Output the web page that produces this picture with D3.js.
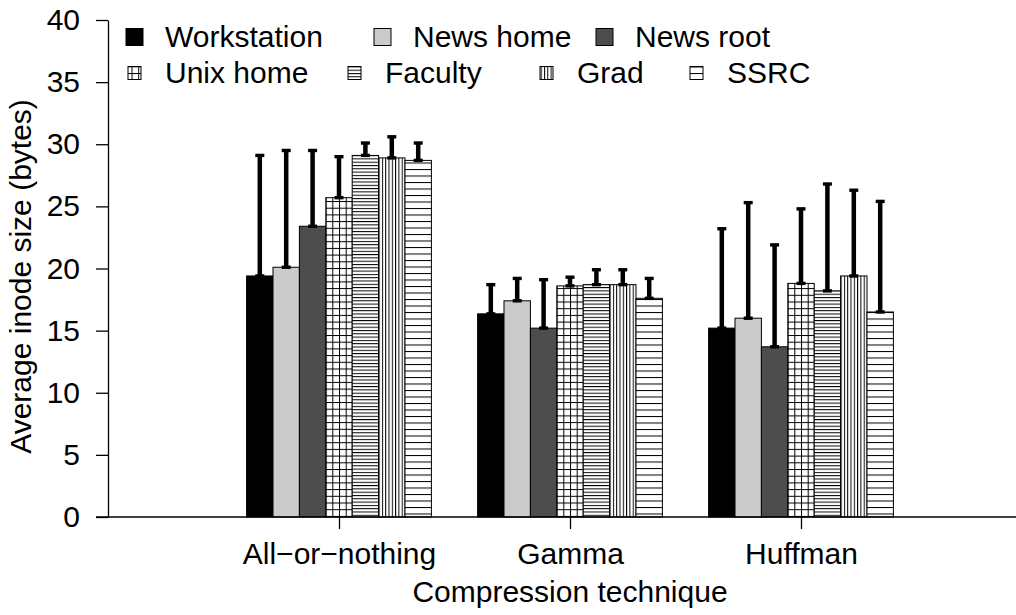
<!DOCTYPE html>
<html>
<head>
<meta charset="utf-8">
<script src="https://cdn.jsdelivr.net/npm/d3@7"></script>
<style>
	body { margin: 0; background: #fff; }
	text { font-family: "Liberation Sans", Arial, Helvetica, sans-serif; fill: #000; }
</style>
</head>
<body>
<svg id="chart" width="1016" height="615"></svg>
<script>
	// data
	var categories = ["All\u2212or\u2212nothing", "Gamma", "Huffman"];
	var series = ["Workstation", "News home", "News root", "Unix home", "Faculty", "Grad", "SSRC"];
	// mean per series, one array per category
	var means = {
		"All\u2212or\u2212nothing": [19.4, 20.1, 23.4, 25.7, 29.1, 28.9, 28.7],
		"Gamma": [16.35, 17.4, 15.2, 18.6, 18.7, 18.7, 17.6],
		"Huffman": [15.2, 16.0, 13.7, 18.8, 18.2, 19.4, 16.5]
	};
	// top of the error bar
	var upper = {
		"All\u2212or\u2212nothing": [29.1, 29.5, 29.5, 29.0, 30.1, 30.6, 30.1],
		"Gamma": [18.7, 19.2, 19.1, 19.3, 19.9, 19.9, 19.2],
		"Huffman": [23.2, 25.3, 21.9, 24.8, 26.8, 26.3, 25.4]
	};
	var yTicks = [0, 5, 10, 15, 20, 25, 30, 35, 40];
	var xTitle = "Compression technique";
	var yTitle = "Average inode size (bytes)";

	var fills = ["#000000", "#cbcbcb", "#4d4d4d", "url(#grid)", "url(#hdense)", "url(#vdense)", "url(#hsparse)"];

	var svg = d3.select("#chart");
	var W = 1016;
	var fontSize = 30;

	var x0 = d3.scalePoint().domain(categories).range([108, 1032]).padding(1);
	var groupW = x0.step() * 0.8;
	var x1 = d3.scaleBand().domain(series).range([-groupW / 2, groupW / 2]);
	var y = d3.scaleLinear().domain([0, 40]).range([517, 20]);

	// hatch patterns
	var defs = svg.append("defs");
	function hatch(id, w, h, horiz, vert) {
		var p = defs.append("pattern").attr("id", id)
			.attr("patternUnits", "userSpaceOnUse")
			.attr("width", w).attr("height", h);
		p.append("rect").attr("width", w).attr("height", h).attr("fill", "#fff");
		if (horiz) p.append("rect").attr("width", w).attr("height", 1).attr("fill", "#000");
		if (vert) p.append("rect").attr("width", 1).attr("height", h).attr("fill", "#000");
	}
	hatch("grid", 6.7, 6.7, true, true);
	hatch("hdense", 4, 3.3, true, false);
	hatch("vdense", 3.3, 4, false, true);
	hatch("hsparse", 4, 6.5, true, false);

	// axes
	var yAxis = svg.append("g").attr("transform", "translate(108,0)")
		.call(d3.axisLeft(y).tickValues(yTicks).tickSize(12).tickSizeOuter(0).tickPadding(16));
	yAxis.select(".domain").attr("stroke", "#000").attr("stroke-width", 1.3);
	yAxis.selectAll(".tick line").attr("stroke-width", 1.3);
	yAxis.selectAll("text").attr("font-size", fontSize).attr("font-family", null);

	var xAxis = svg.append("g").attr("transform", "translate(0," + y(0) + ")")
		.call(d3.axisBottom(x0).tickSize(12).tickSizeOuter(0).tickPadding(14));
	xAxis.select(".domain").remove();
	xAxis.selectAll(".tick line").attr("stroke-width", 1.3);
	xAxis.selectAll("text").attr("font-size", fontSize).attr("font-family", null);

	// bars
	var groups = svg.selectAll(".grp").data(categories).enter().append("g")
		.attr("class", "grp")
		.attr("transform", function(c) { return "translate(" + x0(c) + ",0)"; });

	groups.selectAll("rect.bar")
		.data(function(c) { return series.map(function(s, i) { return {s: s, i: i, v: means[c][i], top: upper[c][i]}; }); })
		.enter().append("rect").attr("class", "bar")
		.attr("x", function(d) { return x1(d.s); })
		.attr("width", x1.bandwidth())
		.attr("y", function(d) { return y(d.v); })
		.attr("height", function(d) { return y(0) - y(d.v); })
		.attr("fill", function(d) { return fills[d.i]; })
		.attr("stroke", "#000").attr("stroke-width", 1);

	// baseline over the bars
	svg.append("line")
		.attr("x1", 96).attr("x2", W)
		.attr("y1", y(0)).attr("y2", y(0))
		.attr("stroke", "#000").attr("stroke-width", 1.3);

	// error bars
	var err = groups.selectAll("g.err")
		.data(function(c) { return series.map(function(s, i) { return {s: s, v: means[c][i], top: upper[c][i]}; }); })
		.enter().append("g").attr("class", "err")
		.attr("transform", function(d) { return "translate(" + (x1(d.s) + x1.bandwidth() / 2) + ",0)"; });
	err.append("line")
		.attr("y1", function(d) { return y(d.v); })
		.attr("y2", function(d) { return y(d.top); })
		.attr("stroke", "#000").attr("stroke-width", 4.5);
	err.selectAll("rect.cap")
		.data(function(d) { return [d.v, d.top]; })
		.enter().append("rect").attr("class", "cap")
		.attr("x", -4.5).attr("width", 9)
		.attr("y", function(v) { return y(v) - 1.7; }).attr("height", 3.4)
		.attr("fill", "#000");

	// axis titles
	svg.append("text")
		.attr("x", x0(categories[1])).attr("y", 602)
		.attr("text-anchor", "middle").attr("font-size", fontSize)
		.text(xTitle);
	svg.append("text")
		.attr("transform", "translate(31," + ((y(0) + y(40)) / 2 + 8) + ") rotate(-90)")
		.attr("text-anchor", "middle").attr("font-size", fontSize)
		.text(yTitle);

	// legend, two rows
	var legendPos = [[165, 37], [413, 37], [635, 37], [165, 73], [385, 73], [577, 73], [727, 73]];
	var leg = svg.selectAll(".leg").data(series).enter().append("g")
		.attr("class", "leg")
		.attr("transform", function(s, i) { return "translate(" + legendPos[i][0] + "," + legendPos[i][1] + ")"; });
	leg.append("rect")
		.attr("x", function(s, i) { return i < 3 ? -39 : -37; })
		.attr("y", function(s, i) { return i < 3 ? -8.5 : -6.5; })
		.attr("width", function(s, i) { return i < 3 ? 17 : 13; })
		.attr("height", function(s, i) { return i < 3 ? 17 : 13; })
		.attr("fill", function(s, i) { return fills[i]; })
		.attr("stroke", "#000").attr("stroke-width", 1);
	leg.append("text")
		.attr("y", 10)
		.attr("font-size", fontSize)
		.text(function(s) { return s; });
</script>
</body>
</html>
